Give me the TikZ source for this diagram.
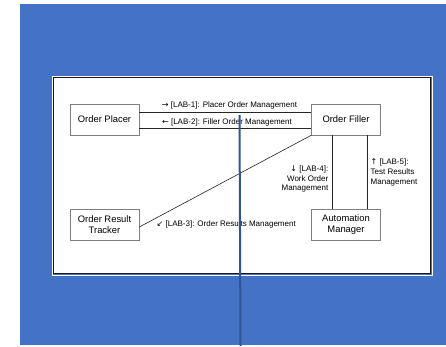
\documentclass[tikz,border=0pt]{standalone}
\usepackage{fontspec}
\setmainfont{Liberation Sans}
\newfontfamily\arrowfont{DejaVu Sans}
\definecolor{slideblue}{HTML}{4472C4}
\definecolor{pointerblue}{HTML}{2F5597}
\definecolor{boxgray}{HTML}{7F7F7F}
\newcommand{\arw}[1]{{\arrowfont\fontsize{8}{9}\selectfont #1}}
\begin{document}
\begin{tikzpicture}[x=1pt,y=-1pt,
  actor/.style={draw=boxgray,line width=0.6pt,fill=white,minimum width=69pt,
    minimum height=31pt,inner sep=1pt,align=center,font=\fontsize{9.4}{11}\selectfont},
  link/.style={draw=black!85,line width=0.6pt},
  lab/.style={inner sep=0pt,font=\fontsize{8}{9.7}\selectfont}]
  \useasboundingbox (0,0) rectangle (446,346);
  % slide background and white frame
  \fill[slideblue] (20,4) rectangle (446,345);
  \draw[white,line width=1pt] (52,76) rectangle (432,275);
  \filldraw[fill=white,draw=black!90,line width=1.2pt] (53.5,77.5) rectangle (430.5,273.5);
  % actors
  \node[actor] (placer)  at (104.5,119.5) {Order Placer};
  \node[actor] (filler)  at (346,119.5)   {Order Filler};
  \node[actor] (tracker) at (104.5,224.5) {Order Result\\Tracker};
  \node[actor] (amgr)    at (346,224.5)   {Automation\\Manager};
  % transactions
  \draw[link] ([yshift=7.5pt]placer.east) -- ([yshift=7.5pt]filler.west);
  \draw[link] ([yshift=-8.5pt]placer.east) -- ([yshift=-8.5pt]filler.west);
  \draw[link] (filler.south west) -- ([yshift=-2.5pt]tracker.east);
  \draw[link] ([xshift=-14pt]filler.south) -- ([xshift=-14pt]amgr.north);
  \draw[link] ([xshift=21pt]filler.south) -- ([xshift=21pt]amgr.north);
  % transaction labels
  \node[lab] (l1) at (229.5,105) {\arw{→} [LAB-1]: Placer Order Management};
  \node[lab] (l2) at (227,122) {\arw{←} [LAB-2]: Filler Order Management};
  \node[lab,anchor=west] (l3) at (156.5,224) {\arw{↙} [LAB-3]: Order Results Management};
  \node[lab,anchor=east,align=right] (l4) at (328.5,179) {\arw{↓} [LAB-4]:\\Work Order\\Management};
  \node[lab,anchor=west,align=left] (l5) at (370.5,172.5) {\arw{↑} [LAB-5]:\\Test Results\\Management};
  % pointer line
  \coordinate (ptop) at (239.5,115);
  \coordinate (pbot) at (240.5,346);
  \draw[pointerblue,line width=2pt] (ptop) -- (pbot);
\end{tikzpicture}
\end{document}
